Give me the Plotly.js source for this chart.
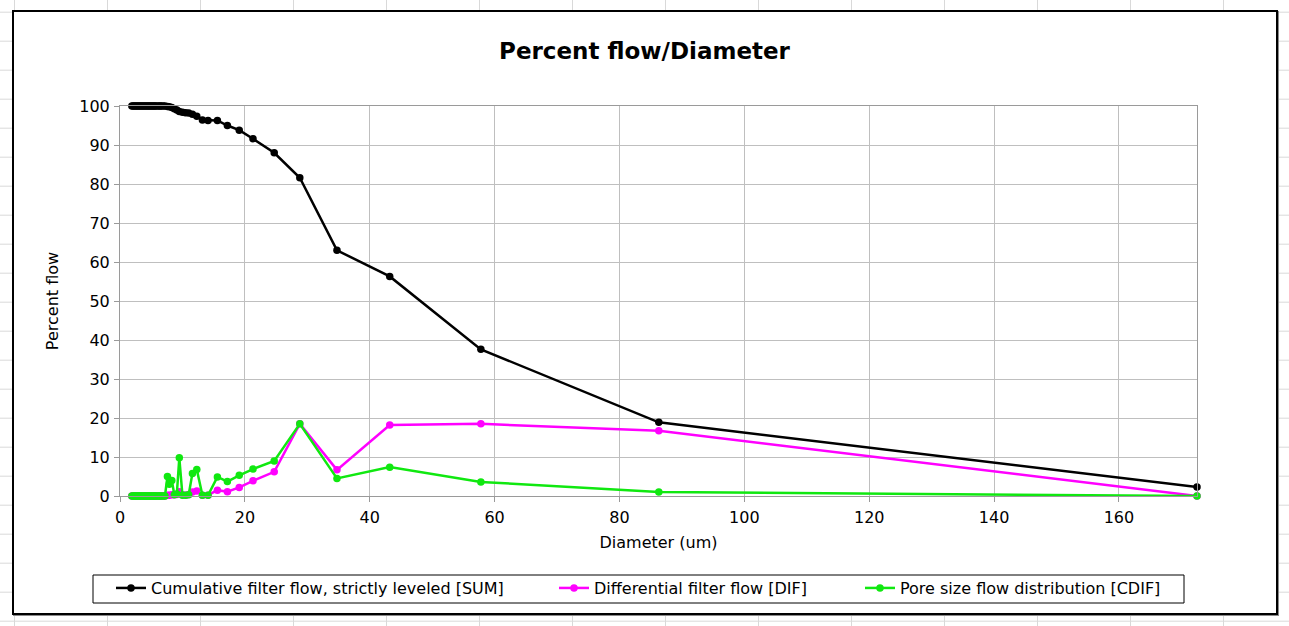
<!DOCTYPE html>
<html>
<head>
<meta charset="utf-8">
<script src="https://cdn.plot.ly/plotly-3.0.1.min.js"></script>
<style>
  html, body { margin: 0; padding: 0; }
  body {
    width: 1289px; height: 626px; overflow: hidden; position: relative;
    background-color: #ffffff;
    background-image:
      linear-gradient(to right, #d9d9d9 1px, transparent 1px),
      linear-gradient(to bottom, #d9d9d9 1px, transparent 1px);
    background-size: 93px 29px, 93px 29px;
    background-position: 14px 0, 0 11.7px;
  }
  #frame {
    position: absolute; left: 12px; top: 10px; width: 1266px; height: 605px;
    box-sizing: border-box; border: 2px solid #000; background: #fff;
    box-shadow: 1px 1px 0 #8a8a8a;
  }
  #chart { position: absolute; left: 0; top: 0; width: 1289px; height: 626px; }
</style>
</head>
<body>
<div id="frame"></div>
<div id="chart"></div>
<script>
// Pore diameter (um) for every measured pressure step
const diameter = [1.9, 2.1, 2.3, 2.5, 2.7, 2.9, 3.1, 3.3, 3.5, 3.7, 3.9, 4.1, 4.3, 4.5, 4.7,
  4.9, 5.1, 5.3, 5.5, 5.7, 5.9, 6.2, 6.4, 6.6, 6.9, 7.2, 7.6, 7.9, 8.3, 8.7, 9.1, 9.5,
  10.0, 10.5, 11.0, 11.6, 12.3, 13.2, 14.1, 15.6, 17.2, 19.1, 21.3, 24.7, 28.8, 34.75,
  43.2, 57.8, 86.3, 172.5];

// Cumulative filter flow, strictly leveled [SUM] (%)
const sumFlow = [100, 100, 100, 100, 100, 100, 100, 100, 100, 100, 100, 100, 100, 100, 100,
  100, 100, 100, 100, 100, 100, 100, 100, 100, 100, 100, 99.9, 99.8, 99.6, 99.3, 99.0, 98.6,
  98.4, 98.3, 98.2, 97.9, 97.4, 96.4, 96.3, 96.3, 95.0, 93.8, 91.6, 88.0, 81.6, 63.0,
  56.3, 37.6, 18.9, 2.3];

// Differential filter flow [DIF] (%)
const difFlow = [0, 0, 0, 0, 0, 0, 0, 0, 0, 0, 0, 0, 0, 0, 0,
  0, 0, 0, 0, 0, 0, 0, 0, 0, 0, 0, 0.2, 0.2, 0.3, 0.3, 0.4, 1.1,
  0.3, 0.2, 0.4, 1.0, 1.3, 0.2, 0.2, 1.5, 1.1, 2.2, 3.9, 6.2, 18.5, 6.7,
  18.2, 18.5, 16.7, 0];

// Pore size flow distribution [CDIF] (%)
const cdifFlow = [0, 0, 0, 0, 0, 0, 0, 0, 0, 0, 0, 0, 0, 0, 0,
  0, 0, 0, 0, 0, 0, 0, 0, 0, 0, 0, 5.0, 3.0, 4.0, 0.3, 0.5, 9.8,
  0.2, 0.2, 0.3, 5.8, 6.8, 0.2, 0.2, 4.9, 3.7, 5.3, 6.9, 9.0, 18.5, 4.5,
  7.4, 3.6, 1.0, 0];

const seriesNames = [
  'Cumulative filter flow, strictly leveled [SUM]',
  'Differential filter flow [DIF]',
  'Pore size flow distribution [CDIF]'
];
const seriesColors = ['#000000', '#ff00ff', '#10e810'];
const seriesValues = [sumFlow, difFlow, cdifFlow];
const legendIds = ['legend', 'legend2', 'legend3'];

const FONT = 'DejaVu Sans, Verdana, sans-serif';

const traces = seriesValues.map((vals, i) => ({
  type: 'scatter',
  mode: 'lines+markers',
  x: diameter,
  y: vals,
  name: seriesNames[i],
  legend: legendIds[i],
  line: { color: seriesColors[i], width: 2.5 },
  marker: { color: seriesColors[i], size: 7.5 },
  cliponaxis: false
}));

function legendAt(x) {
  return {
    x: x, y: -0.236, xanchor: 'left', yanchor: 'middle',
    orientation: 'h', bgcolor: 'rgba(0,0,0,0)', borderwidth: 0,
    font: { family: FONT, size: 16, color: '#000' }
  };
}

const axisCommon = {
  showgrid: true, gridcolor: '#bfbfbf', gridwidth: 1,
  showline: true, linecolor: '#9a9a9a', linewidth: 1, mirror: true,
  ticks: 'outside', ticklen: 5, tickcolor: '#9a9a9a',
  zeroline: false,
  tickfont: { family: FONT, size: 16, color: '#000' }
};

const layout = {
  width: 1289, height: 626,
  margin: { l: 120, r: 92, t: 106, b: 130 },
  paper_bgcolor: 'rgba(0,0,0,0)',
  plot_bgcolor: '#ffffff',
  showlegend: true,
  title: {
    text: '<b>Percent flow/Diameter</b>',
    font: { family: FONT, size: 23, color: '#000' },
    x: 0.5, xref: 'container', xanchor: 'center',
    y: 1 - 51 / 626, yref: 'container', yanchor: 'middle'
  },
  xaxis: Object.assign({}, axisCommon, {
    range: [0, 172.5], tick0: 0, dtick: 20,
    ticklabelstandoff: 2,
    title: { text: 'Diameter (um)', font: { family: FONT, size: 16, color: '#000' }, standoff: 10 }
  }),
  yaxis: Object.assign({}, axisCommon, {
    range: [0, 100], tick0: 0, dtick: 10,
    ticklabelstandoff: 1,
    title: { text: 'Percent flow', font: { family: FONT, size: 16, color: '#000' }, standoff: 16 }
  }),
  legend: legendAt((111 - 120) / 1077),
  legend2: legendAt((554 - 120) / 1077),
  legend3: legendAt((860 - 120) / 1077),
  shapes: [{
    type: 'rect', xref: 'paper', yref: 'paper',
    x0: (93 - 120) / 1077, x1: (1184 - 120) / 1077,
    y0: (496 - 603) / 390, y1: (496 - 575) / 390,
    line: { color: '#000', width: 1 }, fillcolor: 'rgba(0,0,0,0)'
  }]
};

Plotly.newPlot('chart', traces, layout, { displayModeBar: false, staticPlot: true });
</script>
</body>
</html>
